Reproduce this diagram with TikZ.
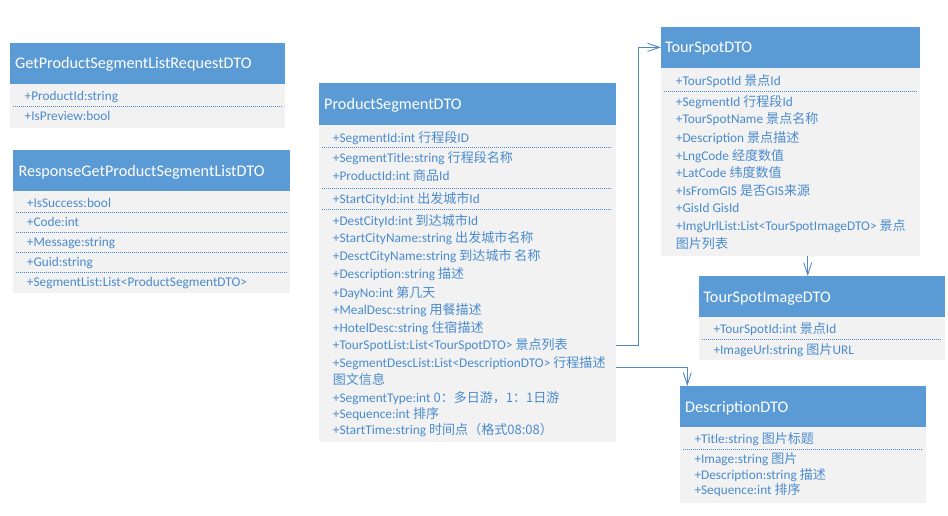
\documentclass[tikz,border=0pt]{standalone}
\usepackage{fontspec}
\setmainfont{Carlito}
\newfontfamily\cjk[Scale=0.98]{Noto Sans CJK SC}
\usetikzlibrary{arrows.meta}
\definecolor{hdr}{HTML}{5B9BD5}
\definecolor{bodyc}{HTML}{F2F2F2}
\definecolor{txtc}{HTML}{4A8BCD}
\definecolor{connc}{HTML}{5088C4}
\newcommand\zhx[1]{{\cjk #1}}
\begin{document}
\begin{tikzpicture}[x=1pt,y=-1pt,
  hdrbox/.style={fill=hdr, draw=none, anchor=north west, inner sep=0pt},
  bodybox/.style={fill=bodyc, draw=none, anchor=north west, inner sep=0pt},
  ttl/.style={anchor=base west, text=white, font=\fontsize{16.2}{19}\selectfont, inner sep=0pt},
  rowtxt/.style={anchor=base west, text=txtc, font=\fontsize{13.3}{16}\selectfont, inner sep=0pt},
  sepline/.style={draw=txtc, line width=0.7pt, dash pattern=on 1pt off 1pt},
  conn/.style={draw=connc, line width=0.9pt},
  arr/.style={-{Straight Barb[length=12pt,width=8pt,line width=0.9pt]}}
]
\useasboundingbox[fill=white] (0,0) rectangle (948,516);

% ---------- GetProductSegmentListRequestDTO
\node[hdrbox, minimum width=275pt, minimum height=41.3pt] (h1) at (10,42.7) {};
\node[bodybox, minimum width=275pt, minimum height=43.7pt] (b1) at (10,84) {};
\node[ttl] (t1) at (15,69) {GetProductSegmentListRequestDTO};
\node[rowtxt] (r1a) at (24.5,100.7) {+ProductId:string};
\node[rowtxt] (r1b) at (24.5,120.7) {+IsPreview:bool};
\draw[sepline] (13,106.3) -- (282,106.3);

% ---------- ResponseGetProductSegmentListDTO
\node[hdrbox, minimum width=277.3pt, minimum height=41pt] (h2) at (12.7,150) {};
\node[bodybox, minimum width=277.3pt, minimum height=102pt] (b2) at (12.7,191) {};
\node[ttl] (t2) at (18.3,176.2) {ResponseGetProductSegmentListDTO};
\node[rowtxt] (r2a) at (26.7,207.7) {+IsSuccess:bool};
\node[rowtxt] (r2b) at (26.7,226.7) {+Code:int};
\node[rowtxt] (r2c) at (26.7,246.7) {+Message:string};
\node[rowtxt] (r2d) at (26.7,266.7) {+Guid:string};
\node[rowtxt] (r2e) at (26.7,286.7) {+SegmentList:List<ProductSegmentDTO>};
\foreach \yy in {212.3,232.3,252.3,272.3} \draw[sepline] (15.5,\yy) -- (286,\yy);

% ---------- ProductSegmentDTO
\node[hdrbox, minimum width=296.7pt, minimum height=42pt] (h3) at (319,83) {};
\node[bodybox, minimum width=296.7pt, minimum height=316.7pt] (b3) at (319,125) {};
\node[ttl] (t3) at (324,109.7) {ProductSegmentDTO};
\node[rowtxt] (r3a) at (332.7,142.4) {+SegmentId:int \zhx{行程段}ID};
\node[rowtxt] (r3b) at (332.7,163) {+SegmentTitle:string \zhx{行程段名称}};
\node[rowtxt] (r3c) at (332.7,180.7) {+ProductId:int \zhx{商品}Id};
\node[rowtxt] (r3d) at (332.7,203.7) {+StartCityId:int \zhx{出发城市}Id};
\node[rowtxt] (r3e) at (332.7,225.4) {+DestCityId:int \zhx{到达城市}Id};
\node[rowtxt] (r3f) at (332.7,242.7) {+StartCityName:string \zhx{出发城市名称}};
\node[rowtxt] (r3g) at (332.7,260.4) {+DesctCityName:string \zhx{到达城市 名称}};
\node[rowtxt] (r3h) at (332.7,278.7) {+Description:string \zhx{描述}};
\node[rowtxt] (r3i) at (332.7,297) {+DayNo:int \zhx{第几天}};
\node[rowtxt] (r3j) at (332.7,314.7) {+MealDesc:string \zhx{用餐描述}};
\node[rowtxt] (r3k) at (332.7,332.7) {+HotelDesc:string \zhx{住宿描述}};
\node[rowtxt] (r3tsl) at (332.7,349.7) {+TourSpotList:List<TourSpotDTO> \zhx{景点列表}};
\node[rowtxt] (r3m) at (332.7,367.4) {+SegmentDescList:List<DescriptionDTO> \zhx{行程描述}};
\node[rowtxt] (r3n) at (332.7,384.7) {\zhx{图文信息}};
\node[rowtxt] (r3o) at (332.7,402) {+SegmentType:int \zhx{0：多日游，1：1日游}};
\node[rowtxt] (r3p) at (332.7,418) {+Sequence:int \zhx{排序}};
\node[rowtxt] (r3q) at (332.7,434.7) {+StartTime:string \zhx{时间点（格式08:08）}};
\foreach \yy in {147.7,188.3,209.3} \draw[sepline] (322,\yy) -- (612,\yy);

% ---------- TourSpotDTO
\node[hdrbox, minimum width=259pt, minimum height=41pt] (h4) at (661,26.7) {};
\node[bodybox, minimum width=259pt, minimum height=188pt] (b4) at (661,67.7) {};
\node[ttl] (t4) at (665,52.9) {TourSpotDTO};
\node[rowtxt] (r4a) at (675.7,85.4) {+TourSpotId \zhx{景点}Id};
\node[rowtxt] (r4b) at (675.7,106.4) {+SegmentId \zhx{行程段}Id};
\node[rowtxt] (r4c) at (675.7,124) {+TourSpotName \zhx{景点名称}};
\node[rowtxt] (r4d) at (675.7,142.4) {+Description \zhx{景点描述}};
\node[rowtxt] (r4e) at (675.7,160.4) {+LngCode \zhx{经度数值}};
\node[rowtxt] (r4f) at (675.7,178) {+LatCode \zhx{纬度数值}};
\node[rowtxt] (r4g) at (675.7,195.7) {+IsFromGIS \zhx{是否}GIS\zhx{来源}};
\node[rowtxt] (r4h) at (675.7,212.4) {+GisId GisId};
\node[rowtxt] (r4i) at (675.7,230.7) {+ImgUrlList:List<TourSpotImageDTO> \zhx{景点}};
\node[rowtxt] (r4j) at (675.7,248) {\zhx{图片列表}};
\draw[sepline] (664,91) -- (918,91);

% ---------- TourSpotImageDTO
\node[hdrbox, minimum width=246pt, minimum height=40.7pt] (h5) at (699,276) {};
\node[bodybox, minimum width=246pt, minimum height=42.6pt] (b5) at (699,316.7) {};
\node[ttl] (t5) at (703.3,302) {TourSpotImageDTO};
\node[rowtxt] (r5a) at (713.3,333.7) {+TourSpotId:int \zhx{景点}Id};
\node[rowtxt] (r5b) at (713.3,354) {+ImageUrl:string \zhx{图片}URL};
\draw[sepline] (702,339.3) -- (942,339.3);

% ---------- DescriptionDTO
\node[hdrbox, minimum width=245.7pt, minimum height=40.7pt] (h6) at (680,386) {};
\node[bodybox, minimum width=245.7pt, minimum height=75.6pt] (b6) at (680,426.7) {};
\node[ttl] (t6) at (685,412) {DescriptionDTO};
\node[rowtxt] (r6a) at (694.3,443.7) {+Title:string \zhx{图片标题}};
\node[rowtxt] (r6b) at (694.3,463.7) {+Image:string \zhx{图片}};
\node[rowtxt] (r6c) at (694.3,479.7) {+Description:string \zhx{描述}};
\node[rowtxt] (r6d) at (694.3,494.7) {+Sequence:int \zhx{排序}};
\draw[sepline] (683,449.3) -- (922,449.3);

% ---------- connectors
\coordinate (a1) at (r3tsl.east -| b3.east);
\draw[conn,arr] (a1) -- ++(22.5,0) |- (h4.west);
\coordinate (a2) at ([xshift=17pt]b4.south);
\draw[conn,arr] (a2) -- (a2 |- h5.north);
\coordinate (a3) at ([yshift=-4pt]r3m.east -| b3.east);
\coordinate (a3e) at ([xshift=7.3pt]h6.north west);
\draw[conn,arr] (a3) -| (a3e);
\end{tikzpicture}
\end{document}
